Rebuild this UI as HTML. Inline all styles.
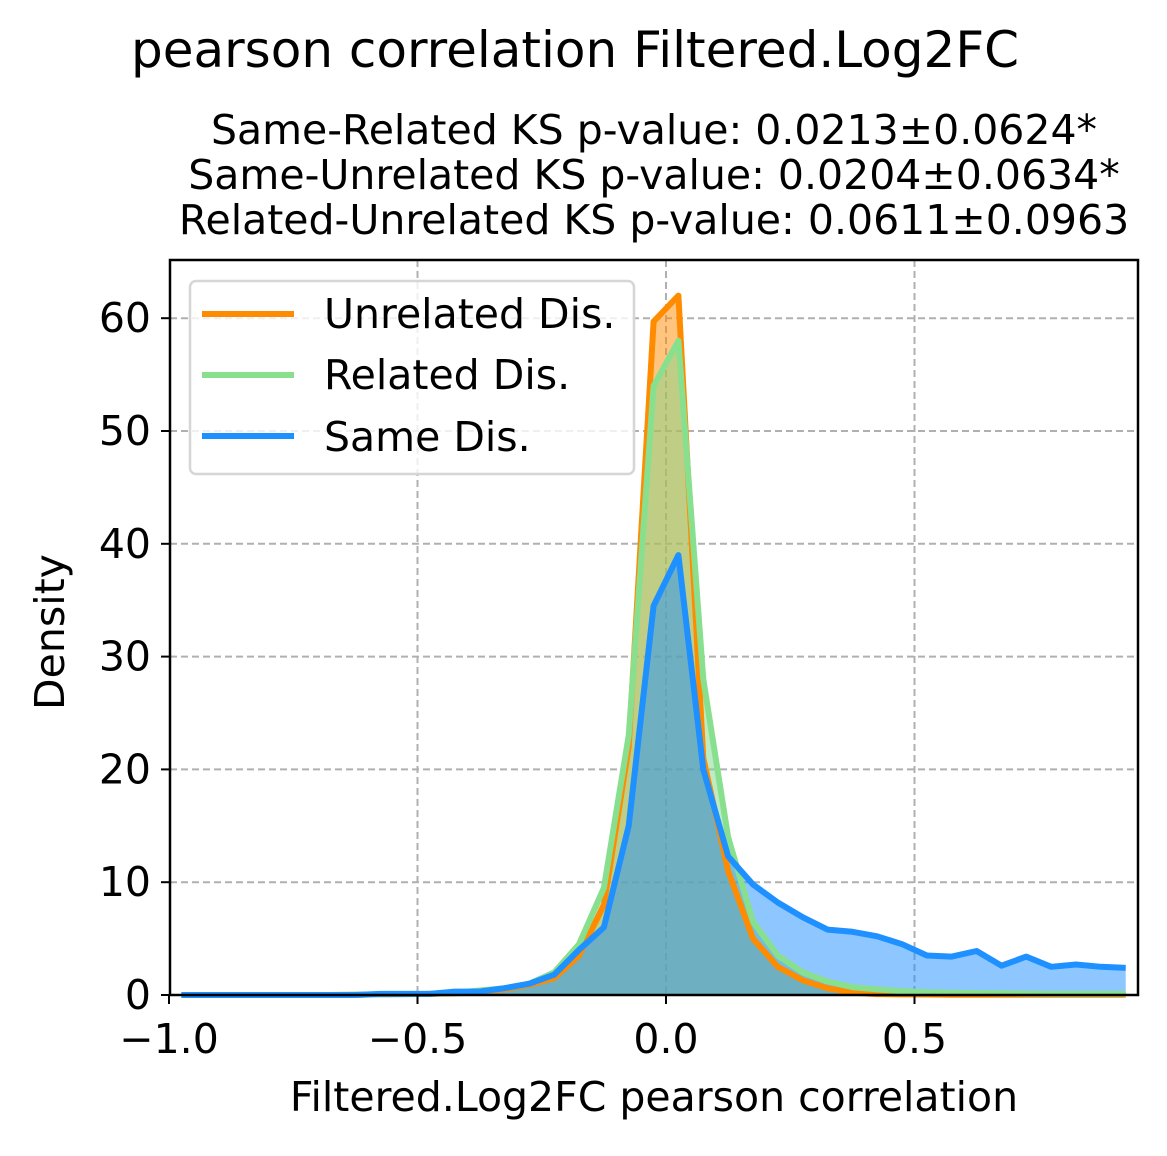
<!DOCTYPE html>
<html><head><meta charset="utf-8"><style>
body{margin:0;background:#fff}
svg text{font-family:"DejaVu Sans","Liberation Sans",sans-serif;fill:#000}
</style></head><body>
<svg id="chart" width="1167" height="1151" xmlns="http://www.w3.org/2000/svg">
<rect width="1167" height="1151" fill="#fff"/>
<text x="575" y="67" font-size="50" text-anchor="middle">pearson correlation Filtered.Log2FC</text>
<text x="654" y="144" font-size="41" text-anchor="middle">Same-Related KS p-value: 0.0213±0.0624*</text>
<text x="654" y="189" font-size="41" text-anchor="middle">Same-Unrelated KS p-value: 0.0204±0.0634*</text>
<text x="654" y="234" font-size="41" text-anchor="middle">Related-Unrelated KS p-value: 0.0611±0.0963</text>
<g id="grid"></g>
<g id="fills"></g>
<g id="lines"></g>
<rect x="170" y="260" width="968" height="735" fill="none" stroke="#000" stroke-width="2.5"/>
<g id="ticks"></g>
<text x="654" y="1111" font-size="41" text-anchor="middle">Filtered.Log2FC pearson correlation</text>
<text transform="translate(64,632) rotate(-90)" font-size="41" text-anchor="middle">Density</text>
<g>
<rect x="190" y="281" width="444" height="193" rx="6" fill="#fff" fill-opacity="0.8" stroke="#d6d6d6" stroke-width="2.5"/>
<line x1="202" y1="314" x2="294" y2="314" stroke="#ff8c00" stroke-width="6"/>
<text x="324" y="328" font-size="41">Unrelated Dis.</text>
<line x1="202" y1="375" x2="294" y2="375" stroke="#88e08f" stroke-width="6"/>
<text x="324" y="389" font-size="41">Related Dis.</text>
<line x1="202" y1="436" x2="294" y2="436" stroke="#1e90ff" stroke-width="6"/>
<text x="324" y="451" font-size="41">Same Dis.</text>
</g>
</svg>
<script>
const xCenters=[-0.975,-0.925,-0.875,-0.825,-0.775,-0.725,-0.675,-0.625,-0.575,-0.525,-0.475,-0.425,-0.375,-0.325,-0.275,-0.225,-0.175,-0.125,-0.075,-0.025,0.025,0.075,0.125,0.175,0.225,0.275,0.325,0.375,0.425,0.475,0.525,0.575,0.625,0.675,0.725,0.775,0.825,0.875,0.925];
const unrelated=[0,0,0,0,0,0,0,0.02,0.05,0.08,0.1,0.15,0.3,0.5,0.9,1.5,3.5,8,22,59.7,62,21,11,5,2.5,1.3,0.6,0.2,0.08,0.05,0.04,0.03,0.03,0.02,0.02,0.02,0.02,0.02,0.02];
const related=[0,0,0,0,0,0,0,0.02,0.05,0.08,0.1,0.2,0.4,0.6,1.0,2.0,4.5,9.5,23,54,58,28,14,6.5,3.5,2,1.2,0.7,0.5,0.35,0.25,0.2,0.18,0.15,0.12,0.1,0.1,0.1,0.1];
const same=[0,0,0,0,0,0,0,0,0.1,0.1,0.1,0.3,0.3,0.6,1.0,1.8,4.0,6.0,15,34.5,39,20,12.3,9.8,8.2,6.9,5.8,5.6,5.2,4.5,3.5,3.4,3.9,2.6,3.4,2.5,2.7,2.5,2.4];
const xTicks=[-1.0,-0.5,0.0,0.5];
const xTickLabels=["\u22121.0","\u22120.5","0.0","0.5"];
const yTicks=[0,10,20,30,40,50,60];
const NS="http://www.w3.org/2000/svg";
const X=v=>666+497*v, Y=v=>995-11.28*v;
function mk(tag,attrs,parent){const e=document.createElementNS(NS,tag);for(const k in attrs)e.setAttribute(k,attrs[k]);parent.appendChild(e);return e;}
const grid=document.getElementById('grid'),ticks=document.getElementById('ticks');
xTicks.forEach((t,i)=>{
  if(i>0){const g=mk('line',{x1:X(t),x2:X(t),y1:260,y2:995,stroke:'#b0b0b0','stroke-width':2,'stroke-dasharray':'7,4'},grid);
  
  }
  const tk=mk('line',{x1:X(t),x2:X(t),y1:995,y2:1004,stroke:'#000','stroke-width':2},ticks);
  
  
  const tx=mk('text',{x:X(t),y:1053,'font-size':41,'text-anchor':'middle'},ticks);
  tx.textContent=xTickLabels[i];
  
  
});
yTicks.forEach(t=>{
  if(t>0){const g=mk('line',{x1:170,x2:1138,y1:Y(t),y2:Y(t),stroke:'#b0b0b0','stroke-width':2,'stroke-dasharray':'7,4'},grid);
  
  }
  const tk=mk('line',{x1:161,x2:170,y1:Y(t),y2:Y(t),stroke:'#000','stroke-width':2},ticks);
  
  
  const tx=mk('text',{x:151,y:Y(t)+14,'font-size':41,'text-anchor':'end'},ticks);
  tx.textContent=t;
  
  
});
const series=[[unrelated,'#ff8c00','#ff8c00','unrelated'],[related,'#88e08f','#7fd88a','related'],[same,'#1e90ff','#1e90ff','same']];
const fills=document.getElementById('fills'),lines=document.getElementById('lines');
series.forEach(([d,c,fc,n])=>{
  const pts=xCenters.map((x,i)=>X(x).toFixed(1)+','+Y(d[i]).toFixed(1));
  const x0=X(xCenters[0]),x1=X(xCenters[xCenters.length-1]);
  const f=mk('polygon',{points:x0+',995 '+pts.join(' ')+' '+x1+',995',fill:fc,'fill-opacity':0.5},fills);
  
  
  const l=mk('polyline',{points:pts.join(' '),fill:'none',stroke:c,'stroke-width':6,'stroke-linejoin':'round'},lines);
  
  
});
</script>
</body></html>
